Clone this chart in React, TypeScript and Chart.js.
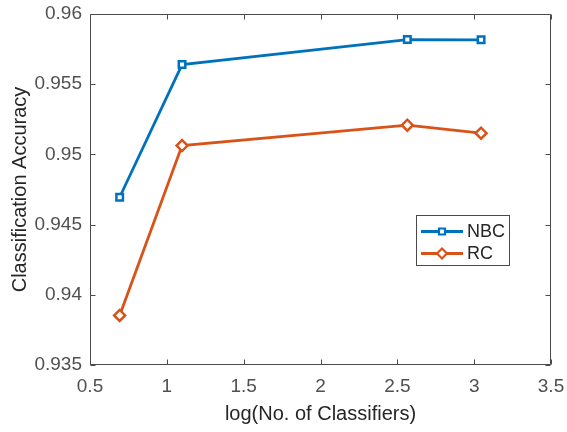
import React, { useEffect, useRef } from "react";
import { Chart, registerables } from "chart.js";

Chart.register(...registerables);

const xValues = [0.693, 1.099, 2.565, 3.045];
const nbcValues = [0.94695, 0.9564, 0.95818, 0.95816];
const rcValues = [0.93853, 0.95063, 0.95208, 0.95151];
const seriesLabels = ["NBC", "RC"];
const xTitle = "log(No. of Classifiers)";
const yTitle = "Classification Accuracy";

const BLUE = "#0072BD";
const ORANGE = "#D95319";
const AXIS = "#4a4a4a";
const TICKTXT = "#505050";
const FONT = "'Liberation Sans', Arial, Helvetica, sans-serif";

const boxPlugin = {
  id: "matlabBox",
  afterDatasetsDraw(chart: any) {
    const { ctx, chartArea, scales } = chart;
    const l = Math.round(chartArea.left) + 0.5;
    const r = Math.round(chartArea.right) - 0.5;
    const t = Math.round(chartArea.top) + 0.5;
    const b = Math.round(chartArea.bottom) - 0.5;
    ctx.save();
    ctx.strokeStyle = AXIS;
    ctx.lineWidth = 1;
    ctx.beginPath();
    ctx.rect(l, t, r - l, b - t);
    const tl = 5;
    scales.x.ticks.forEach((tk: any) => {
      const px = Math.round(scales.x.getPixelForValue(tk.value)) + 0.5;
      ctx.moveTo(px, b);
      ctx.lineTo(px, b - tl);
      ctx.moveTo(px, t);
      ctx.lineTo(px, t + tl);
    });
    scales.y.ticks.forEach((tk: any) => {
      const py = Math.round(scales.y.getPixelForValue(tk.value)) + 0.5;
      ctx.moveTo(l, py);
      ctx.lineTo(l + tl, py);
      ctx.moveTo(r, py);
      ctx.lineTo(r - tl, py);
    });
    ctx.stroke();
    ctx.restore();
  },
  afterDraw(chart: any) {
    const { ctx } = chart;
    const bx = 416.5, by = 215.5, bw = 93, bh = 50;
    ctx.save();
    ctx.fillStyle = "#ffffff";
    ctx.fillRect(bx, by, bw, bh);
    ctx.strokeStyle = AXIS;
    ctx.lineWidth = 1;
    ctx.strokeRect(bx, by, bw, bh);
    const rows = [231.5, 253.5];
    chart.data.datasets.forEach((ds: any, i: number) => {
      const y = rows[i];
      ctx.strokeStyle = ds.borderColor;
      ctx.lineWidth = 2.8;
      ctx.beginPath();
      ctx.moveTo(421, y);
      ctx.lineTo(463, y);
      ctx.stroke();
      ctx.fillStyle = "#ffffff";
      ctx.lineWidth = 2.2;
      ctx.beginPath();
      if (ds.pointStyle === "rect") {
        ctx.rect(442 - 3, y - 3, 6, 6);
      } else {
        ctx.moveTo(442, y - 5);
        ctx.lineTo(447, y);
        ctx.lineTo(442, y + 5);
        ctx.lineTo(437, y);
        ctx.closePath();
      }
      ctx.fill();
      ctx.stroke();
      ctx.fillStyle = "#262626";
      ctx.font = `18px ${FONT}`;
      ctx.textBaseline = "middle";
      ctx.textAlign = "left";
      ctx.fillText(ds.label, 467, y + 1);
    });
    ctx.restore();
  },
};

export default function App() {
  const canvasRef = useRef<HTMLCanvasElement | null>(null);

  useEffect(() => {
    if (!canvasRef.current) return;
    const chart = new Chart(canvasRef.current, {
      type: "line",
      data: {
        datasets: [
          {
            label: seriesLabels[0],
            data: xValues.map((x, i) => ({ x, y: nbcValues[i] })),
            borderColor: BLUE,
            backgroundColor: "#ffffff",
            borderWidth: 2.8,
            pointStyle: "rect",
            pointRadius: 4.6,
            pointBorderWidth: 2.5,
            pointBackgroundColor: "#ffffff",
            pointBorderColor: BLUE,
            tension: 0,
          },
          {
            label: seriesLabels[1],
            data: xValues.map((x, i) => ({ x, y: rcValues[i] })),
            borderColor: ORANGE,
            backgroundColor: "#ffffff",
            borderWidth: 2.8,
            pointStyle: "rectRot",
            pointRadius: 5.5,
            pointBorderWidth: 2.5,
            pointBackgroundColor: "#ffffff",
            pointBorderColor: ORANGE,
            tension: 0,
          },
        ],
      },
      options: {
        animation: false,
        responsive: false,
        events: [],
        layout: { padding: { top: 14, right: 16, left: 0, bottom: 0 } },
        plugins: { legend: { display: false }, tooltip: { enabled: false } },
        scales: {
          x: {
            type: "linear",
            min: 0.5,
            max: 3.5,
            grid: { display: false, drawTicks: false },
            border: { display: false },
            afterFit: (s: any) => {
              s.height = 67;
              s.paddingLeft = 0;
              s.paddingRight = 0;
            },
            ticks: {
              stepSize: 0.5,
              padding: 10,
              color: TICKTXT,
              font: { family: FONT, size: 19 },
              maxRotation: 0,
              callback: (v: any) => String(+Number(v).toFixed(3)),
            },
            title: {
              display: true,
              text: xTitle,
              color: "#262626",
              font: { family: FONT, size: 20 },
              padding: { top: 0, bottom: 6 },
            },
          },
          y: {
            type: "linear",
            min: 0.935,
            max: 0.96,
            grid: { display: false, drawTicks: false },
            border: { display: false },
            afterFit: (s: any) => {
              s.width = 90;
              s.paddingTop = 0;
              s.paddingBottom = 0;
            },
            ticks: {
              stepSize: 0.005,
              padding: 8,
              color: TICKTXT,
              font: { family: FONT, size: 19 },
              callback: (v: any) => String(+Number(v).toFixed(3)),
            },
            title: {
              display: true,
              text: yTitle,
              color: "#262626",
              font: { family: FONT, size: 20 },
              padding: { top: 8, bottom: 0 },
            },
          },
        },
      },
      plugins: [boxPlugin],
    } as any);
    return () => chart.destroy();
  }, []);

  return (
    <div style={{ position: "fixed", left: 0, top: 0, width: 567, height: 432, background: "#fff" }}>
      <canvas ref={canvasRef} width={567} height={432} style={{ display: "block" }} />
    </div>
  );
}
